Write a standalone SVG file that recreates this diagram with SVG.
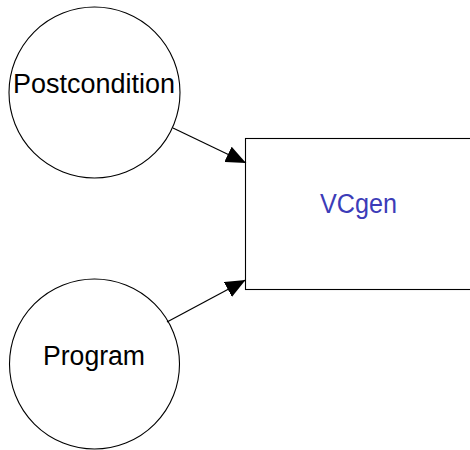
<svg xmlns="http://www.w3.org/2000/svg" width="470" height="450" viewBox="0 0 470 450">
  <style>
    .node { fill: #ffffff; stroke: #000000; stroke-width: 1.1; }
    .label { font-family: "Liberation Sans", Arial, sans-serif; font-size: 27px; text-anchor: middle; fill: #000000; }
    .blue { fill: #3c3cb8; }
    .edge { stroke: #000000; stroke-width: 1.2; fill: none; marker-end: url(#head); }
  </style>
  <defs>
    <marker id="head" viewBox="0 0 20 17" refX="20" refY="8.5" markerWidth="20" markerHeight="17" markerUnits="userSpaceOnUse" orient="auto">
      <path d="M0,0 L20,8.5 L0,17 Z" fill="#000000"/>
    </marker>
  </defs>
  <g id="postcondition">
    <circle class="node" cx="94.5" cy="92.5" r="85.5"/>
    <text class="label" x="94" y="93" textLength="162" lengthAdjust="spacingAndGlyphs">Postcondition</text>
  </g>
  <g id="program">
    <circle class="node" cx="94.5" cy="364" r="85"/>
    <text class="label" x="94" y="365" textLength="102" lengthAdjust="spacingAndGlyphs">Program</text>
  </g>
  <g id="vcgen">
    <rect class="node" x="245.5" y="138.5" width="240" height="151"/>
    <text class="label blue" x="358.5" y="213" textLength="77" lengthAdjust="spacingAndGlyphs">VCgen</text>
  </g>
  <g id="connectors">
    <line class="edge" x1="173" y1="128" x2="246" y2="163"/>
    <line class="edge" x1="167" y1="322" x2="245.5" y2="280"/>
  </g>
</svg>
